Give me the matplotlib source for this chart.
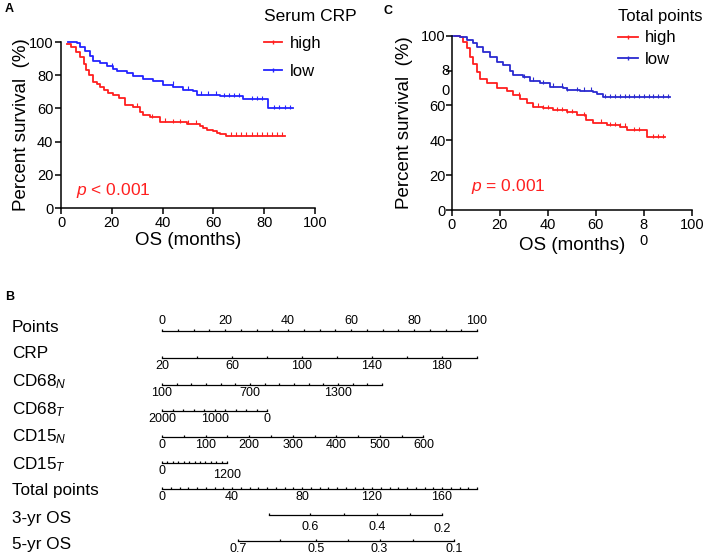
import numpy as np
import matplotlib
matplotlib.use('Agg')
import matplotlib.pyplot as plt
from matplotlib.lines import Line2D
from matplotlib.transforms import blended_transform_factory

plt.rcParams['font.family'] = ['Liberation Sans', 'DejaVu Sans']
plt.rcParams['mathtext.fontset'] = 'custom'
plt.rcParams['mathtext.rm'] = 'Liberation Sans'
plt.rcParams['mathtext.it'] = 'Liberation Sans:italic'

RED = '#ff1f1f'
BLUE_A = '#2424ff'
BLUE_C = '#2a2ad0'

# ---- panel A: serum CRP ----
a_high_t = [2.2, 4, 6, 7.5, 9, 10, 11, 12.7, 14, 15.4, 17, 18.5, 20.6, 23, 25, 28.5, 31, 32.4,
            35, 39, 44, 49.5, 54.7, 56, 57.3, 60, 61.3, 62.6, 65, 88]
a_high_s = [99, 97, 94, 91, 87, 83, 80, 76, 74.5, 73, 71, 69.5, 68, 66, 62, 61, 58, 56,
            54.6, 52, 51.6, 50.8, 49.6, 48, 47, 46.6, 45, 44.6, 43.6, 43.6]
a_high_cens = [30, 36, 41, 44, 47, 50, 53, 67, 69, 71, 73, 75, 77, 79, 81, 83, 85, 87]
a_low_t = [2.9, 6.2, 7.5, 9.4, 11.4, 12.7, 15.4, 18, 20.6, 22, 25.9, 28.5, 32.4, 36.4, 40.3,
           44.2, 48.2, 52, 53.4, 62.6, 71.8, 81.6, 91.2]
a_low_s = [100, 99.4, 97, 94.4, 91.4, 88.8, 87.3, 85.3, 84, 82.7, 81.3, 79.3, 77.7, 76.3, 74.3,
           72.9, 71.3, 70.3, 68.3, 67.3, 65.7, 60.2, 60.2]
a_low_cens = [20, 44, 50, 55, 58, 61, 64, 66, 68, 70, 75, 77, 79, 84, 86, 88, 90]

# ---- panel C: total points ----
c_high_t = [1.4, 3.5, 4.9, 6.2, 7.6, 9, 10.4, 11.8, 14.6, 18.7, 22.9, 25.7, 28.5, 31.2, 34, 38,
            42.4, 48, 52, 56, 59, 64.6, 70, 73, 81.5, 88.9]
c_high_s = [100, 99, 96.6, 92.7, 88, 84, 79.3, 75, 72.7, 70.2, 68.5, 66, 63.5, 61.2, 59.3, 58.3,
            57.4, 56, 54.5, 51.6, 50, 48.8, 47.8, 45.8, 41.7, 41.7]
c_high_cens = [28, 34, 36, 38, 40, 44, 46, 48, 50, 55, 62, 66, 68, 70, 72, 76, 78, 84, 86, 88]
c_low_t = [0, 3.5, 6.2, 9, 10.4, 13.2, 16, 18.7, 21.5, 24.3, 25.7, 29.9, 32.6, 36.8, 41, 46.5,
           48, 53.5, 59, 60.4, 63.2, 91]
c_low_s = [100, 99.4, 97.5, 95.6, 93.7, 90.8, 88, 85, 83.2, 80, 77.4, 76.1, 74.2, 72.7, 70.7,
           69.8, 68.8, 68.5, 67.9, 66.3, 64.6, 64.6]
c_low_cens = [30, 34, 38, 42, 46, 48, 52, 55, 58, 64, 66, 68, 70, 72, 74, 76, 78, 80, 82, 84,
              86, 88, 90]

# ---- panel B: nomogram scales ----
points_ticks = list(range(0, 101, 5))
points_labels = [0, 20, 40, 60, 80, 100]
crp_range = (20, 200)
crp_ticks = list(range(20, 201, 20))
crp_labels = [20, 60, 100, 140, 180]
cd68n_range = (100, 1600)
cd68n_pts = 69.8
cd68n_ticks = list(range(100, 1601, 100))
cd68n_labels = [100, 700, 1300]
cd68t_range = (2000, 0)
cd68t_pts = 33.4
cd68t_ticks = list(range(0, 2001, 200))
cd68t_labels = [2000, 1000, 0]
cd15n_range = (0, 600)
cd15n_pts = 83.0
cd15n_ticks = list(range(0, 601, 50))
cd15n_labels = [0, 100, 200, 300, 400, 500, 600]
cd15t_range = (0, 1200)
cd15t_pts = 20.7
cd15t_ticks = list(range(0, 1201, 100))
cd15t_labels = [0, 1200]
total_range = (0, 180)
total_ticks = list(range(0, 181, 5))
total_labels = [0, 40, 80, 120, 160]
os3_probs = [0.7, 0.6, 0.5, 0.4, 0.3, 0.2]
os3_total = [61, 84.5, 104, 123, 141.5, 160]
os3_labels = [0.6, 0.4, 0.2]
os5_probs = [0.7, 0.6, 0.5, 0.4, 0.3, 0.2, 0.1]
os5_total = [43.5, 67.4, 87.8, 106.5, 124.3, 143.7, 167]
os5_labels = [0.7, 0.5, 0.3, 0.1]

fig = plt.figure(figsize=(7.08, 5.56), dpi=100)
W, H = 708, 556


def px_axes(l, t, r, b):
    return fig.add_axes([l / W, 1 - b / H, (r - l) / W, (b - t) / H])


def km(ax, t, s, cens, color):
    ax.step(t, s, where='post', color=color, lw=1.3, clip_on=False)
    t = np.array(t)
    s = np.array(s)
    idx = np.searchsorted(t, cens, side='right') - 1
    ax.plot(cens, s[idx] + 0.8, ls='none', marker='|', ms=2.5, mew=0.8, color=color,
            clip_on=False)


def style_km(ax, fs_tick):
    for sp in ['top', 'right']:
        ax.spines[sp].set_visible(False)
    for sp in ['left', 'bottom']:
        ax.spines[sp].set_linewidth(1.1)
    ax.set_xlim(0, 100)
    ax.set_ylim(0, 100)
    ax.set_xticks([0, 20, 40, 60, 80, 100])
    ax.set_yticks([0, 20, 40, 60, 80, 100])
    ax.tick_params(direction='out', length=4, width=1.1, labelsize=fs_tick, pad=1.5)


# panel A
axA = px_axes(61, 42, 315, 208)
style_km(axA, 10.5)
km(axA, a_high_t, a_high_s, a_high_cens, RED)
km(axA, a_low_t, a_low_s, a_low_cens, BLUE_A)
axA.set_xlabel('OS (months)', fontsize=13.5, labelpad=2)
axA.set_ylabel('Percent survival  (%)', fontsize=13.5, labelpad=-1)
axA.text(6, 8, '$p$ < 0.001', color=RED, fontsize=12.5)
hA = [Line2D([], [], color=RED, lw=1.3, marker='|', ms=2.5),
      Line2D([], [], color=BLUE_A, lw=1.3, marker='|', ms=2.5)]
axA.legend(hA, ['high', 'low'], title='Serum CRP', loc='upper left',
           bbox_to_anchor=(252 / W, 1 + 3 / H), bbox_transform=fig.transFigure,
           frameon=False, fontsize=12, title_fontsize=12.5, handlelength=1.1,
           handletextpad=0.45, labelspacing=0.75, alignment='left', borderpad=0.2)
fig.text(5 / W, 1 - 9 / H, 'A', fontsize=9, fontweight='bold', va='center')

# panel C
axC = px_axes(451.7, 35.7, 691.7, 210)
style_km(axC, 10.5)
axC.tick_params(axis='y', pad=0.3)
km(axC, c_high_t, c_high_s, c_high_cens, RED)
km(axC, c_low_t, c_low_s, c_low_cens, BLUE_C)
axC.set_xticklabels(['0', '20', '40', '60', '8\n0', '100'])
axC.set_yticklabels(['0', '20', '40', '60', '', '100'])
axC.text(-0.01, 83.5, '8\n0', transform=blended_transform_factory(axC.transAxes, axC.transData),
         ha='right', va='top', fontsize=10.5, linespacing=1.5)
axC.set_xlabel('OS (months)', fontsize=13.5, labelpad=-8)
axC.set_ylabel('Percent survival  (%)', fontsize=13.5, labelpad=6)
axC.text(8, 11, '$p$ = 0.001', color=RED, fontsize=12.5)
hC = [Line2D([], [], color=RED, lw=1.3, marker='|', ms=2.5),
      Line2D([], [], color=BLUE_C, lw=1.3, marker='|', ms=2.5)]
axC.legend(hC, ['high', 'low'], title='Total points', loc='upper left',
           bbox_to_anchor=(606 / W, 1 + 3 / H), bbox_transform=fig.transFigure,
           frameon=False, fontsize=12, title_fontsize=12, handlelength=1.2,
           handletextpad=0.45, labelspacing=0.4, alignment='left', borderpad=0.2)
fig.text(383 / W, 1 - 11 / H, 'C', fontsize=9, fontweight='bold', va='center')

# panel B: nomogram, x in points units, y in image pixels
axB = fig.add_axes([162 / W, 0, 315 / W, 256 / H])
axB.set_xlim(0, 100)
axB.set_ylim(556, 300)
axB.axis('off')
fig.text(5 / W, 1 - 297 / H, 'B', fontsize=9, fontweight='bold', va='center')
lab_tr = blended_transform_factory(fig.transFigure, axB.transData)


def scale(values, rng, pts):
    v = np.asarray(values, dtype=float)
    return (v - rng[0]) / (rng[1] - rng[0]) * pts


def row(name, y_line, pos, lab_pos, lab_txt, label_above=False, lab_dy=None, y_name=None):
    pos = np.asarray(pos)
    axB.plot([pos.min(), pos.max()], [y_line, y_line], color='black', lw=0.9, clip_on=False)
    axB.vlines(pos, y_line, y_line - 2.5, color='black', lw=0.9, clip_on=False)
    for i, (x, t) in enumerate(zip(lab_pos, lab_txt)):
        if label_above:
            axB.text(x, y_line - 3.5, t, ha='center', va='bottom', fontsize=9)
        else:
            dy = 2 if lab_dy is None else lab_dy[i]
            axB.text(x, y_line + dy, t, ha='center', va='top', fontsize=9)
    axB.text(12 / W, y_name if y_name is not None else y_line, name, transform=lab_tr,
             ha='left', va='center', fontsize=12.3)


def fmt(v):
    return ('%g' % v)


row('Points', 331, scale(points_ticks, (0, 100), 100), scale(points_labels, (0, 100), 100),
    [fmt(v) for v in points_labels], label_above=True, y_name=327)
row('CRP', 358, scale(crp_ticks, crp_range, 100), scale(crp_labels, crp_range, 100),
    [fmt(v) for v in crp_labels], y_name=354)
row('CD68$_{N}$', 385, scale(cd68n_ticks, cd68n_range, cd68n_pts),
    scale(cd68n_labels, cd68n_range, cd68n_pts), [fmt(v) for v in cd68n_labels], y_name=382)
row('CD68$_{T}$', 411, scale(cd68t_ticks, cd68t_range, cd68t_pts),
    scale(cd68t_labels, cd68t_range, cd68t_pts), [fmt(v) for v in cd68t_labels], y_name=410)
row('CD15$_{N}$', 437, scale(cd15n_ticks, cd15n_range, cd15n_pts),
    scale(cd15n_labels, cd15n_range, cd15n_pts), [fmt(v) for v in cd15n_labels], y_name=437)
row('CD15$_{T}$', 463, scale(cd15t_ticks, cd15t_range, cd15t_pts),
    scale(cd15t_labels, cd15t_range, cd15t_pts), [fmt(v) for v in cd15t_labels],
    lab_dy=[2, 5.5], y_name=465)
row('Total points', 489, scale(total_ticks, total_range, 100),
    scale(total_labels, total_range, 100), [fmt(v) for v in total_labels], y_name=490)
os3_lab_pos = [os3_total[os3_probs.index(p)] for p in os3_labels]
row('3-yr OS', 515, scale(os3_total, total_range, 100), scale(os3_lab_pos, total_range, 100),
    [fmt(v) for v in os3_labels], lab_dy=[6, 6, 7.5], y_name=518)
os5_lab_pos = [os5_total[os5_probs.index(p)] for p in os5_labels]
row('5-yr OS', 541, scale(os5_total, total_range, 100), scale(os5_lab_pos, total_range, 100),
    [fmt(v) for v in os5_labels], lab_dy=[2, 2, 2, 2], y_name=545)

fig.savefig('out.png', dpi=100)
